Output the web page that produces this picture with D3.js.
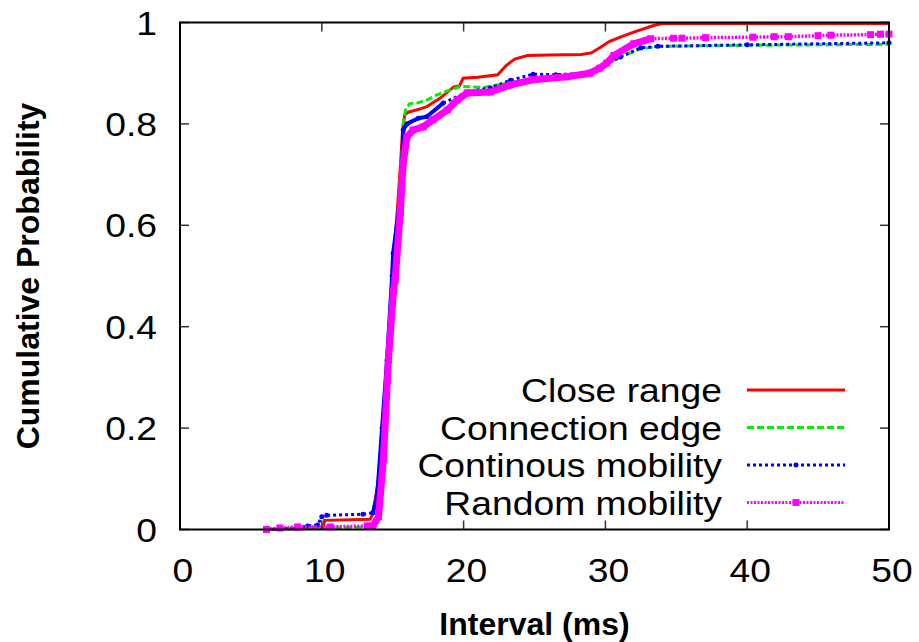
<!DOCTYPE html>
<html>
<head>
<meta charset="utf-8">
<script src="https://cdn.jsdelivr.net/npm/d3@7"></script>
<style>
  html, body { margin: 0; padding: 0; background: #fff; }
  svg { display: block; }
</style>
</head>
<body>
<div id="chart"></div>
<script>
// interval (ms) vs cumulative probability
const closeRange = [
  [6.0, 0], [7.0, 0.001], [9.0, 0.002], [10.1, 0.003], [10.2, 0.018], [13.4, 0.02],
  [13.6, 0.03], [14.0, 0.1], [14.3, 0.2], [14.6, 0.33], [15.0, 0.52], [15.3, 0.62],
  [15.55, 0.72], [15.7, 0.79], [15.85, 0.818], [16.1, 0.823], [17.0, 0.83], [17.4, 0.834],
  [18.35, 0.851], [19.3, 0.873], [19.7, 0.875], [19.97, 0.89], [21.0, 0.892], [22.4, 0.897],
  [23.0, 0.915], [23.6, 0.928], [24.5, 0.935], [26.0, 0.936], [28.3, 0.937], [29.0, 0.94],
  [29.6, 0.95], [30.3, 0.963], [31.05, 0.971], [32.0, 0.981], [33.4, 0.994], [34.0, 0.998],
  [50, 0.998]
]
const connectionEdge = [
  [6.0, 0], [8.0, 0.002], [13.5, 0.005], [13.9, 0.03], [14.3, 0.15], [14.7, 0.34],
  [15.05, 0.52], [15.4, 0.64], [15.65, 0.74], [15.75, 0.8], [15.9, 0.827], [16.2, 0.84],
  [16.7, 0.841], [17.4, 0.847], [18.1, 0.857], [19.05, 0.867], [19.8, 0.874], [21.4, 0.872],
  [23.0, 0.88], [24.5, 0.886], [26.0, 0.89], [27.3, 0.892], [28.8, 0.895], [29.6, 0.91],
  [31.0, 0.932], [32.5, 0.948], [33.7, 0.953], [40, 0.955], [50, 0.957]
]
const continuousMobility = [
  [6.1, 0], [8.2, 0.003], [9.0, 0.007], [9.7, 0.009], [10.0, 0.025], [10.35, 0.028],
  [12.9, 0.03], [13.6, 0.033], [13.9, 0.065], [14.25, 0.2], [14.6, 0.334], [14.96, 0.5],
  [15.03, 0.545], [15.4, 0.624], [15.67, 0.709], [15.74, 0.788], [16.0, 0.8], [16.8, 0.811],
  [17.4, 0.814], [18.56, 0.841], [20.25, 0.863], [21.9, 0.871], [23.3, 0.886], [24.9, 0.898],
  [26.5, 0.897], [28.7, 0.9], [29.6, 0.91], [31.05, 0.932], [32.5, 0.95], [33.7, 0.953],
  [40, 0.956], [50, 0.96]
]
const randomMobility = [
  [6.1, 0], [7.05, 0.003], [8.3, 0.005], [10.6, 0.005], [13.2, 0.007], [13.6, 0.007],
  [14.0, 0.025], [14.35, 0.14], [14.7, 0.335], [15.05, 0.47], [15.17, 0.492], [15.53, 0.624],
  [15.74, 0.723], [16.0, 0.774], [16.44, 0.788], [17.15, 0.794], [17.85, 0.808], [18.84, 0.827],
  [19.55, 0.847], [20.25, 0.861], [21.9, 0.863], [23.3, 0.877], [24.9, 0.887], [27.3, 0.893],
  [28.9, 0.9], [29.6, 0.91], [30.1, 0.92], [30.6, 0.935], [32.0, 0.958], [33.2, 0.968],
  [34.8, 0.969], [35.4, 0.969], [37.05, 0.97], [40.4, 0.971], [41.9, 0.972], [42.9, 0.972],
  [45.0, 0.974], [45.9, 0.975], [48.7, 0.976], [49.4, 0.977], [50, 0.977]
]

const seriesNames = ["Close range", "Connection edge", "Continous mobility", "Random mobility"]
const seriesColors = ["#ff0000", "#00ee00", "#0000ff", "#ff00ff"]
const xTicks = [0, 10, 20, 30, 40, 50]
const yTicks = [0, 0.2, 0.4, 0.6, 0.8, 1]
const yTickLabels = ["0", "0.2", "0.4", "0.6", "0.8", "1"]

const width = 919, height = 642
const margin = {top: 22.5, right: 30, bottom: 112.5, left: 180}
const sx = 1.13  // regular text is drawn a little wide in the original

const x = d3.scaleLinear().domain([0, 50]).range([margin.left, width - margin.right])
const y = d3.scaleLinear().domain([0, 1]).range([height - margin.bottom, margin.top])

const svg = d3.select("#chart").append("svg")
    .attr("width", width)
    .attr("height", height)
    .style("font-family", "'Liberation Sans', Arial, sans-serif")

// styles: dense = thick solid part of the curve (many samples there)
const styles = [
  {data: closeRange, width: 3, dash: null, dense: null, marker: null},
  {data: connectionEdge, width: 3, dash: "7,3", dense: null, marker: null},
  {data: continuousMobility, width: 3, dash: "3,3", dense: [13.5, 19], denseWidth: 4, marker: "circle"},
  {data: randomMobility, width: 3.5, dash: "2,1.5", dense: [13.5, 33.4], denseWidth: 7, marker: "square"}
]

const line = d3.line().x(d => x(d[0])).y(d => y(d[1]))

const plot = svg.append("g")
  .attr("clip-path", "url(#clip)")
svg.append("clipPath").attr("id", "clip")
  .append("rect")
    .attr("x", margin.left - 4).attr("y", margin.top - 4)
    .attr("width", x.range()[1] - x.range()[0] + 8)
    .attr("height", y.range()[0] - y.range()[1] + 8)

// inward ticks on all four sides
const ticks = svg.append("g").attr("stroke", "#333").attr("stroke-width", 1.5)
xTicks.forEach(t => {
  ticks.append("line").attr("x1", x(t)).attr("x2", x(t)).attr("y1", y(0)).attr("y2", y(0) - 9)
  ticks.append("line").attr("x1", x(t)).attr("x2", x(t)).attr("y1", y(1)).attr("y2", y(1) + 9)
})
yTicks.forEach(t => {
  ticks.append("line").attr("x1", x(0)).attr("x2", x(0) + 9).attr("y1", y(t)).attr("y2", y(t))
  ticks.append("line").attr("x1", x(50)).attr("x2", x(50) - 9).attr("y1", y(t)).attr("y2", y(t))
})

styles.forEach((s, i) => {
  const color = seriesColors[i]
  if (s.dense) {
    plot.append("path")
      .attr("d", line(s.data.filter(d => d[0] >= s.dense[0] && d[0] <= s.dense[1])))
      .attr("fill", "none")
      .attr("stroke", color)
      .attr("stroke-width", s.denseWidth)
      .attr("stroke-linejoin", "round")
  }
  plot.append("path")
    .attr("d", line(s.data))
    .attr("fill", "none")
    .attr("stroke", color)
    .attr("stroke-width", s.width)
    .attr("stroke-dasharray", s.dash)
  if (s.marker === "square") {
    plot.selectAll(null).data(s.data).enter().append("rect")
      .attr("x", d => x(d[0]) - 3.5).attr("y", d => y(d[1]) - 3.5)
      .attr("width", 7).attr("height", 7)
      .attr("fill", color)
  } else if (s.marker === "circle") {
    plot.selectAll(null).data(s.data).enter().append("circle")
      .attr("cx", d => x(d[0])).attr("cy", d => y(d[1]))
      .attr("r", 2.5)
      .attr("fill", color)
  }
})

// frame
svg.append("rect")
  .attr("x", x(0)).attr("y", y(1))
  .attr("width", x(50) - x(0)).attr("height", y(0) - y(1))
  .attr("fill", "none").attr("stroke", "#000").attr("stroke-width", 2)

// tick labels
svg.append("g").selectAll("text").data(xTicks).enter().append("text")
  .attr("transform", d => `translate(${x(d) + 3},582) scale(${sx},1)`)
  .attr("text-anchor", "middle")
  .attr("font-size", 33)
  .text(d => d)
svg.append("g").selectAll("text").data(yTicks).enter().append("text")
  .attr("transform", d => `translate(157,${y(d) + 12}) scale(${sx},1)`)
  .attr("text-anchor", "end")
  .attr("font-size", 33)
  .text((d, i) => yTickLabels[i])

// axis titles
svg.append("text")
  .attr("x", (x(0) + x(50)) / 2).attr("y", 635)
  .attr("text-anchor", "middle")
  .attr("font-size", 32).attr("font-weight", "bold")
  .text("Interval (ms)")
svg.append("text")
  .attr("transform", `translate(39,${(y(0) + y(1)) / 2}) rotate(-90)`)
  .attr("text-anchor", "middle")
  .attr("font-size", 32).attr("font-weight", "bold")
  .text("Cumulative Probability")

// legend
const legend = svg.append("g")
styles.forEach((s, i) => {
  const ly = 390 + i * 37.5
  legend.append("text")
    .attr("transform", `translate(722,${ly + 12}) scale(${sx},1)`)
    .attr("text-anchor", "end")
    .attr("font-size", 33)
    .text(seriesNames[i])
  legend.append("line")
    .attr("x1", 747).attr("x2", 845).attr("y1", ly).attr("y2", ly)
    .attr("stroke", seriesColors[i])
    .attr("stroke-width", 3)
    .attr("stroke-dasharray", s.dash)
  if (s.marker === "square") {
    legend.append("rect").attr("x", 796 - 3.5).attr("y", ly - 3.5)
      .attr("width", 7).attr("height", 7).attr("fill", seriesColors[i])
  } else if (s.marker === "circle") {
    legend.append("circle").attr("cx", 796).attr("cy", ly).attr("r", 2.5)
      .attr("fill", seriesColors[i])
  }
})
</script>
</body>
</html>
